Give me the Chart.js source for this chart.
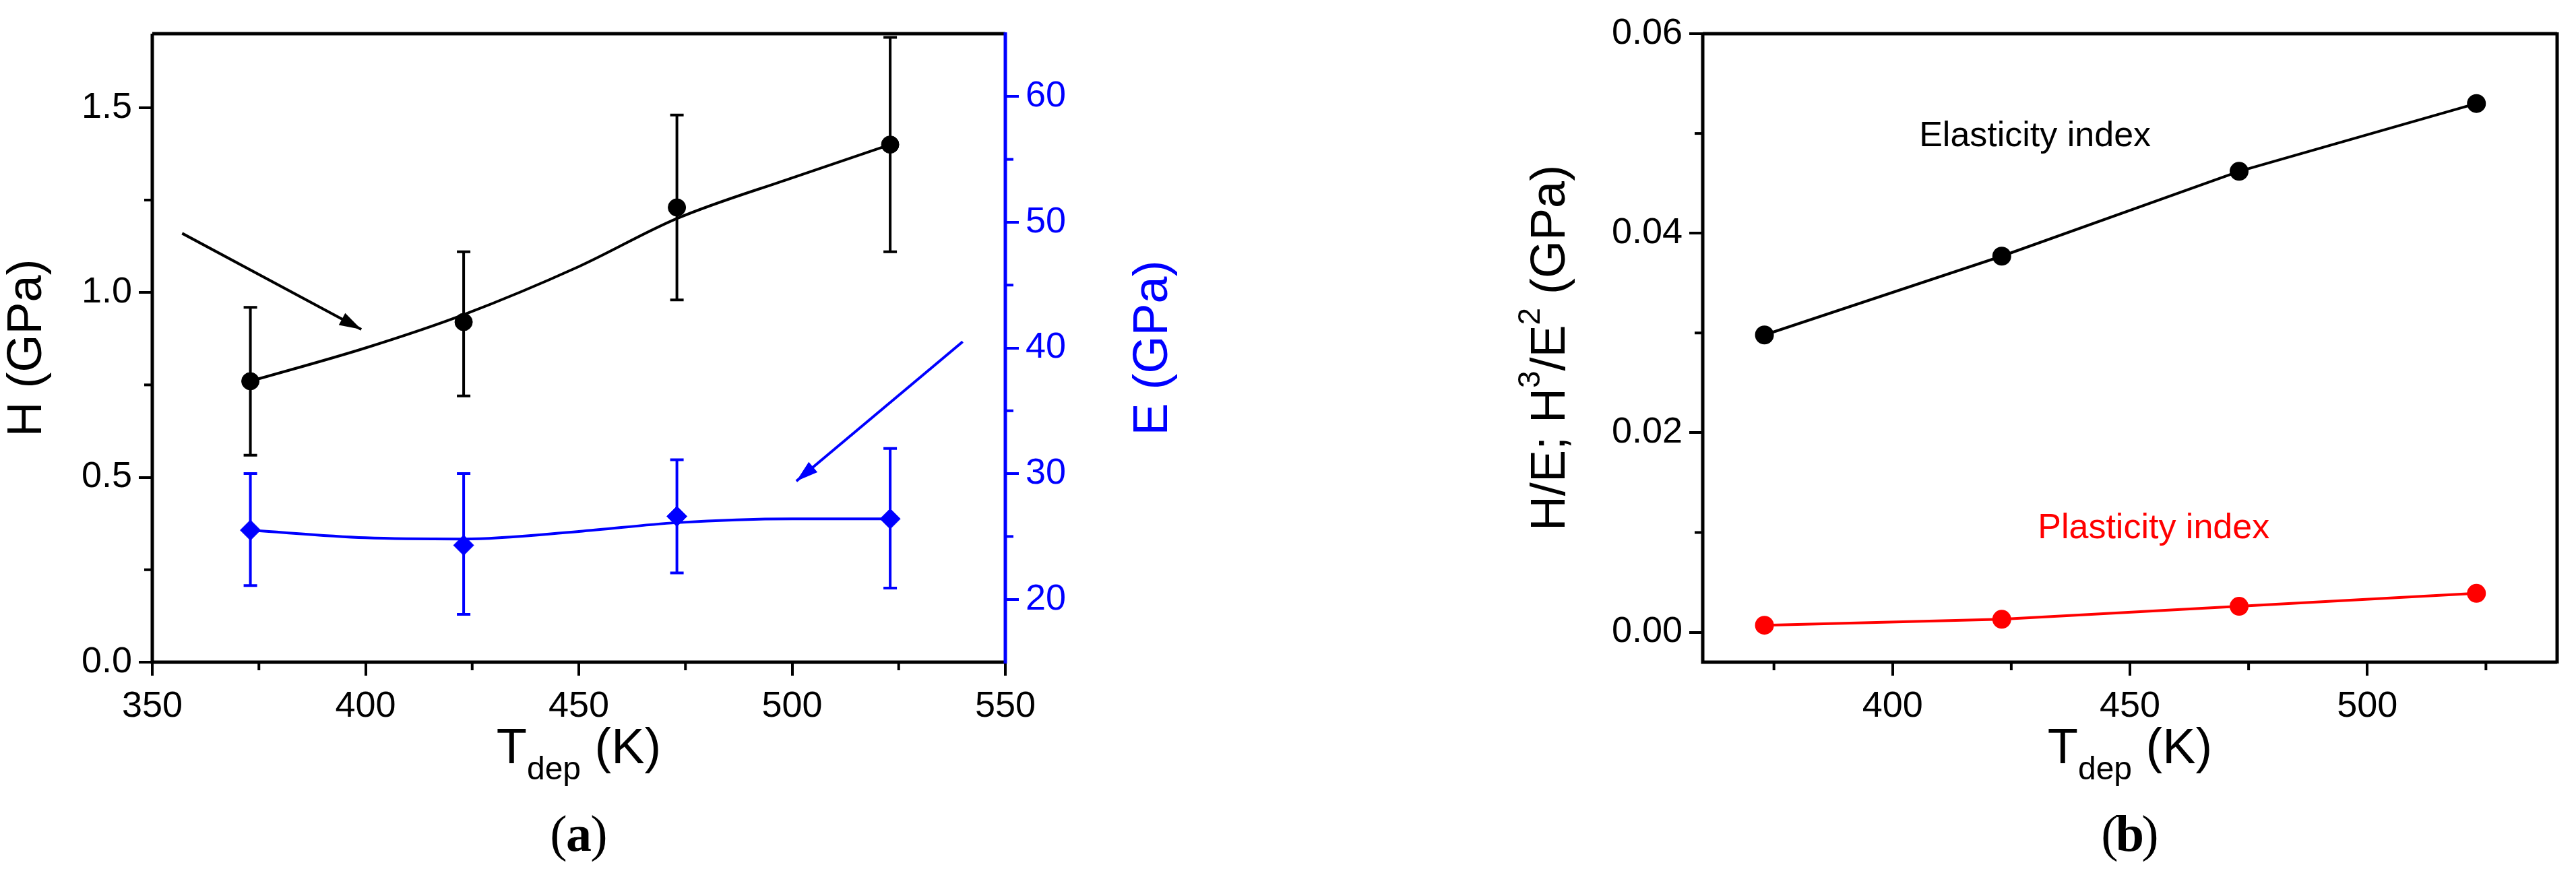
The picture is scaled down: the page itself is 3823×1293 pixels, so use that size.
<!DOCTYPE html>
<html lang="en">
<head>
<meta charset="UTF-8">
<title>H, E and indices vs Tdep</title>
<style>
    body { margin: 0; background: #fff; }
    .panel { position: absolute; top: 0; height: 1293px; }
    #pa { left: 0; width: 1800px; }
    #pb { left: 1900px; width: 1923px; }
</style>
</head>
<body>
<div class="panel" id="pa"><canvas id="chartA"></canvas></div>
<div class="panel" id="pb"><canvas id="chartB"></canvas></div>
<script src="https://cdn.jsdelivr.net/npm/chart.js@4.4.1/dist/chart.umd.min.js"></script>
<script>
    // temperatures (K)
    const temps = [373, 423, 473, 523];
    // panel a: hardness H (GPa) with error bars
    const hVals = [0.76, 0.92, 1.23, 1.40];
    const hLow  = [0.56, 0.72, 0.98, 1.11];
    const hHigh = [0.96, 1.11, 1.48, 1.69];
    // panel a: modulus E (GPa) with error bars
    const eVals = [25.5, 24.3, 26.6, 26.4];
    const eLow  = [21.1, 18.8, 22.1, 20.9];
    const eHigh = [30.0, 30.0, 31.1, 32.0];
    // smooth fit curves
    const fitT = [373, 400, 423, 450, 473, 500, 523];
    const hFit = [0.76, 0.85, 0.94, 1.07, 1.20, 1.31, 1.40];
    const eFit = [25.5, 24.9, 24.8, 25.4, 26.1, 26.4, 26.4];
    // panel b: indices
    const elastIdx = [0.0298, 0.0377, 0.0462, 0.0530];
    const plastIdx = [0.0007, 0.0013, 0.0026, 0.0039];

    const FONT = "'Liberation Sans', Arial, sans-serif";
    const xy = (xs, ys) => xs.map((x, i) => ({ x: x, y: ys[i] }));

    // frame, minor ticks, error bars, arrows, titles
    function decor(opts) {
        return {
            id: "decor",
            afterDatasetsDraw(chart) {
                const ctx = chart.ctx, a = chart.chartArea;
                const sx = chart.scales.x, sy = chart.scales.y;
                ctx.save();
                // error bars
                (opts.errors || []).forEach(e => {
                    const s = chart.scales[e.axis];
                    ctx.strokeStyle = e.color; ctx.lineWidth = 4;
                    temps.forEach((t, i) => {
                        const px = sx.getPixelForValue(t);
                        const y1 = s.getPixelForValue(e.low[i]), y2 = s.getPixelForValue(e.high[i]);
                        ctx.beginPath();
                        ctx.moveTo(px, y1); ctx.lineTo(px, y2);
                        ctx.moveTo(px - 10, y1); ctx.lineTo(px + 10, y1);
                        ctx.moveTo(px - 10, y2); ctx.lineTo(px + 10, y2);
                        ctx.stroke();
                    });
                });
                // arrows
                (opts.arrows || []).forEach(ar => {
                    const s = chart.scales[ar.axis];
                    const x1 = sx.getPixelForValue(ar.from[0]), y1 = s.getPixelForValue(ar.from[1]);
                    const x2 = sx.getPixelForValue(ar.to[0]), y2 = s.getPixelForValue(ar.to[1]);
                    const ang = Math.atan2(y2 - y1, x2 - x1);
                    ctx.strokeStyle = ar.color; ctx.fillStyle = ar.color; ctx.lineWidth = 4;
                    ctx.beginPath(); ctx.moveTo(x1, y1); ctx.lineTo(x2, y2); ctx.stroke();
                    ctx.beginPath();
                    ctx.moveTo(x2, y2);
                    ctx.lineTo(x2 - 34 * Math.cos(ang - 0.3), y2 - 34 * Math.sin(ang - 0.3));
                    ctx.lineTo(x2 - 34 * Math.cos(ang + 0.3), y2 - 34 * Math.sin(ang + 0.3));
                    ctx.closePath(); ctx.fill();
                });
                // frame
                ctx.lineWidth = 5; ctx.strokeStyle = "#000";
                ctx.beginPath();
                ctx.moveTo(a.left, a.top); ctx.lineTo(a.left, a.bottom); ctx.lineTo(a.right, a.bottom);
                ctx.moveTo(a.left, a.top); ctx.lineTo(a.right, a.top);
                ctx.stroke();
                ctx.strokeStyle = opts.rightColor;
                ctx.beginPath(); ctx.moveTo(a.right, a.top - 2); ctx.lineTo(a.right, a.bottom + 2); ctx.stroke();
                // minor ticks
                ctx.lineWidth = 4;
                ctx.strokeStyle = "#000";
                opts.xMinor.forEach(v => {
                    const p = sx.getPixelForValue(v);
                    ctx.beginPath(); ctx.moveTo(p, a.bottom); ctx.lineTo(p, a.bottom + 12); ctx.stroke();
                });
                opts.yMinor.forEach(v => {
                    const p = sy.getPixelForValue(v);
                    ctx.beginPath(); ctx.moveTo(a.left, p); ctx.lineTo(a.left - 12, p); ctx.stroke();
                });
                if (opts.y2Minor) {
                    const s2 = chart.scales.y2;
                    ctx.strokeStyle = opts.rightColor;
                    opts.y2Minor.forEach(v => {
                        const p = s2.getPixelForValue(v);
                        ctx.beginPath(); ctx.moveTo(a.right, p); ctx.lineTo(a.right + 12, p); ctx.stroke();
                    });
                }
                // annotation labels
                (opts.labels || []).forEach(l => {
                    ctx.fillStyle = l.color; ctx.font = "52px " + FONT;
                    ctx.textAlign = "center"; ctx.textBaseline = "middle";
                    ctx.fillText(l.text, sx.getPixelForValue(l.x), sy.getPixelForValue(l.y));
                });
                // x title with subscript
                const cx = (a.left + a.right) / 2, ty = a.bottom + 150;
                ctx.fillStyle = "#000"; ctx.textBaseline = "alphabetic"; ctx.textAlign = "left";
                ctx.font = "74px " + FONT;
                const wT = ctx.measureText("T").width, wK = ctx.measureText(" (K)").width;
                ctx.font = "48px " + FONT;
                const wd = ctx.measureText("dep").width;
                let x0 = cx - (wT + wd + wK) / 2;
                ctx.font = "74px " + FONT; ctx.fillText("T", x0, ty);
                ctx.font = "48px " + FONT; ctx.fillText("dep", x0 + wT, ty + 24);
                ctx.font = "74px " + FONT; ctx.fillText(" (K)", x0 + wT + wd, ty);
                // caption
                ctx.textAlign = "center";
                ctx.font = "76px 'Liberation Serif', serif";
                ctx.fillText("(", cx - 30, 1263);
                ctx.fillText(")", cx + 30, 1263);
                ctx.font = "bold 76px 'Liberation Serif', serif";
                ctx.fillText(opts.caption, cx, 1263);
                // y titles
                opts.yTitles.forEach(t => {
                    ctx.save();
                    ctx.translate(t.x(a), (a.top + a.bottom) / 2);
                    ctx.rotate(-Math.PI / 2);
                    ctx.fillStyle = t.color; ctx.textAlign = "center"; ctx.textBaseline = "middle";
                    if (t.parts) {
                        let w = 0;
                        t.parts.forEach(p => { ctx.font = p[1] + "px " + FONT; w += ctx.measureText(p[0]).width; });
                        let px = -w / 2; ctx.textAlign = "left";
                        t.parts.forEach(p => {
                            ctx.font = p[1] + "px " + FONT;
                            ctx.fillText(p[0], px, p[2]);
                            px += ctx.measureText(p[0]).width;
                        });
                    } else {
                        ctx.font = "72px " + FONT;
                        ctx.fillText(t.text, 0, 0);
                    }
                    ctx.restore();
                });
                ctx.restore();
            }
        };
    }

    const tickFont = { family: FONT, size: 54 };

    new Chart(document.getElementById("chartA"), {
        type: "scatter",
        data: {
            datasets: [
                { data: xy(fitT, hFit), showLine: true, cubicInterpolationMode: "monotone", borderColor: "#000", borderWidth: 4, pointRadius: 0, yAxisID: "y" },
                { data: xy(fitT, eFit), showLine: true, cubicInterpolationMode: "monotone", borderColor: "#0000ff", borderWidth: 4, pointRadius: 0, yAxisID: "y2" },
                { data: xy(temps, hVals), pointStyle: "circle", pointRadius: 13, backgroundColor: "#000", borderColor: "#000", yAxisID: "y" },
                { data: xy(temps, eVals), pointStyle: "rectRot", pointRadius: 15, backgroundColor: "#0000ff", borderColor: "#0000ff", yAxisID: "y2" },
            ],
        },
        options: {
            responsive: true,
            maintainAspectRatio: false,
            animation: false,
            layout: { padding: { top: 50 } },
            plugins: { legend: { display: false }, tooltip: { enabled: false } },
            scales: {
                x: {
                    type: "linear", min: 350, max: 550,
                    ticks: { stepSize: 50, color: "#000", font: tickFont, padding: 14 },
                    grid: { drawOnChartArea: false, tickLength: 20, color: "#000", lineWidth: 4 },
                    border: { display: false },
                    afterFit: s => { s.height = 310; },
                },
                y: {
                    position: "left", min: 0, max: 1.7,
                    afterBuildTicks: s => { s.ticks = [0, 0.5, 1.0, 1.5].map(v => ({ value: v })); },
                    ticks: { color: "#000", font: tickFont, padding: 10, callback: v => v.toFixed(1) },
                    grid: { drawOnChartArea: false, tickLength: 20, color: "#000", lineWidth: 4 },
                    border: { display: false },
                    afterFit: s => { s.width = 226; },
                },
                y2: {
                    position: "right", min: 15, max: 65,
                    afterBuildTicks: s => { s.ticks = [20, 30, 40, 50, 60].map(v => ({ value: v })); },
                    ticks: { color: "#0000ff", font: tickFont, padding: 10 },
                    grid: { drawOnChartArea: false, tickLength: 20, color: "#0000ff", lineWidth: 4 },
                    border: { display: false },
                    afterFit: s => { s.width = 308; },
                },
            },
        },
        plugins: [decor({
            rightColor: "#0000ff",
            caption: "a",
            errors: [
                { axis: "y", color: "#000", low: hLow, high: hHigh },
                { axis: "y2", color: "#0000ff", low: eLow, high: eHigh },
            ],
            arrows: [
                { axis: "y", color: "#000", from: [357, 1.16], to: [399, 0.90] },
                { axis: "y2", color: "#0000ff", from: [540, 40.5], to: [501, 29.4] },
            ],
            xMinor: [375, 425, 475, 525],
            yMinor: [0.25, 0.75, 1.25],
            y2Minor: [25, 35, 45, 55],
            yTitles: [
                { text: "H (GPa)", color: "#000", x: a => a.left - 185 },
                { text: "E (GPa)", color: "#0000ff", x: a => a.right + 220 },
            ],
        })],
    });

    new Chart(document.getElementById("chartB"), {
        type: "scatter",
        data: {
            datasets: [
                { data: xy(temps, elastIdx), showLine: true, borderColor: "#000", borderWidth: 4, pointRadius: 12, backgroundColor: "#000" },
                { data: xy(temps, plastIdx), showLine: true, borderColor: "#ff0000", borderWidth: 4, pointRadius: 12, backgroundColor: "#ff0000" },
            ],
        },
        options: {
            responsive: true,
            maintainAspectRatio: false,
            animation: false,
            layout: { padding: { top: 50, right: 28 } },
            plugins: { legend: { display: false }, tooltip: { enabled: false } },
            scales: {
                x: {
                    type: "linear", min: 360, max: 540,
                    afterBuildTicks: s => { s.ticks = [400, 450, 500].map(v => ({ value: v })); },
                    ticks: { color: "#000", font: tickFont, padding: 14 },
                    grid: { drawOnChartArea: false, tickLength: 20, color: "#000", lineWidth: 4 },
                    border: { display: false },
                    afterFit: s => { s.height = 310; },
                },
                y: {
                    min: -0.003, max: 0.06,
                    afterBuildTicks: s => { s.ticks = [0, 0.02, 0.04, 0.06].map(v => ({ value: v })); },
                    ticks: { color: "#000", font: tickFont, padding: 10, callback: v => v.toFixed(2) },
                    grid: { drawOnChartArea: false, tickLength: 20, color: "#000", lineWidth: 4 },
                    border: { display: false },
                    afterFit: s => { s.width = 627; },
                },
            },
        },
        plugins: [decor({
            rightColor: "#000",
            caption: "b",
            xMinor: [375, 425, 475, 525],
            yMinor: [0.01, 0.03, 0.05],
            labels: [
                { text: "Elasticity index", color: "#000", x: 430, y: 0.0497 },
                { text: "Plasticity index", color: "#ff0000", x: 455, y: 0.0104 },
            ],
            yTitles: [{
                color: "#000", x: a => a.left - 225,
                parts: [["H/E; H", 72, 0], ["3", 46, -30], ["/E", 72, 0], ["2", 46, -30], [" (GPa)", 72, 0]],
            }],
        })],
    });
</script>
</body>
</html>
